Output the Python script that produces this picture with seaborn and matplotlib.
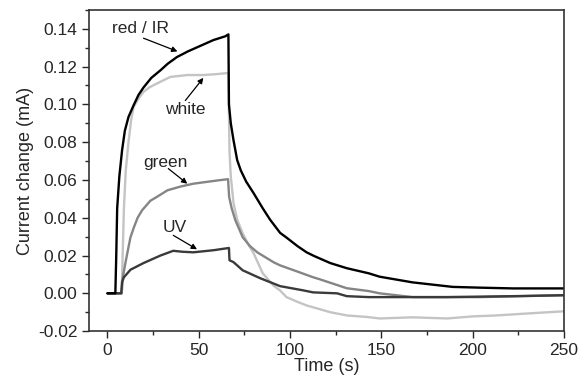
import numpy as np
import pandas as pd
import seaborn as sns
import matplotlib.pyplot as plt
from matplotlib.ticker import MultipleLocator

# photocurrent response under different illumination

red_t = [0, 4.3, 4.8, 5.3, 6.5, 8.0, 9.5, 11.5, 14.3, 17, 19.8, 24, 29, 33, 38, 44, 51, 58, 64.5,
         66.2, 66.5, 67.5, 69, 71, 73, 76, 80, 85, 89, 94.5, 98, 104, 109, 113, 122, 131, 143,
         149, 167, 189, 204, 222, 250]
red_i = [0, 0, 0.02, 0.045, 0.062, 0.0758, 0.086, 0.0933, 0.0995, 0.105, 0.109, 0.114, 0.118,
         0.1215, 0.125, 0.128, 0.131, 0.134, 0.136,
         0.137, 0.100, 0.090, 0.081, 0.0705, 0.065, 0.059, 0.053, 0.045, 0.039, 0.032, 0.0295,
         0.025, 0.0217, 0.0198, 0.016, 0.0133, 0.0106, 0.0088, 0.0058, 0.0034, 0.003, 0.0026,
         0.0026]

white_t = [0, 7.8, 8.3, 9, 10, 11.5, 13, 14.3, 17, 19.7, 23, 27, 34.4, 43.7, 52.5, 60, 66.2,
           66.8, 67.5, 69, 71, 74, 77, 80, 85, 91, 94.5, 98, 104, 109, 113, 122, 131, 142,
           149, 167, 186, 200, 213, 231, 250]
white_i = [0, 0, 0.02, 0.045, 0.065, 0.080, 0.092, 0.0986, 0.103, 0.1066, 0.109, 0.111, 0.1145,
           0.1155, 0.1155, 0.116, 0.1166,
           0.075, 0.062, 0.0477, 0.039, 0.0318, 0.026, 0.0212, 0.0106, 0.004, 0.0015, -0.002,
           -0.0045, -0.0064, -0.0075, -0.010, -0.0117, -0.0125, -0.0133, -0.0127, -0.0133,
           -0.0122, -0.0117, -0.0106, -0.0095]

green_t = [0, 7.8, 8.3, 9.8, 11.5, 12.6, 14.5, 16.5, 19, 23.5, 27, 32.8, 40, 47, 54.6, 60, 66,
           66.6, 68, 70, 74, 78, 82, 91, 94.5, 102, 112.6, 116, 131, 143, 149, 167, 186, 204, 250]
green_i = [0, 0, 0.008, 0.016, 0.0244, 0.0297, 0.035, 0.040, 0.044, 0.049, 0.051, 0.0545,
           0.0565, 0.058, 0.059, 0.0597, 0.0604,
           0.051, 0.045, 0.0387, 0.0297, 0.025, 0.0217, 0.0164, 0.0148, 0.0122, 0.0085, 0.0075,
           0.0027, 0.0012, 0, -0.002, -0.002, -0.002, -0.001]

uv_t = [0, 7.5, 8, 9, 12.6, 19.7, 29, 36, 41, 47, 58, 66.5,
        66.8, 69, 74, 83.6, 94.5, 107, 112.6, 125.7, 131, 143, 186, 222, 250]
uv_i = [0, 0, 0.006, 0.0085, 0.0125, 0.016, 0.020, 0.0225, 0.022, 0.0217, 0.0228, 0.024,
        0.0175, 0.0165, 0.0122, 0.008, 0.0038, 0.0016, 0.0005, 0, -0.0015, -0.002, -0.002,
        -0.0015, -0.001]

labels = ["red / IR", "white", "green", "UV"]

sns.set_style("ticks")
plt.rcParams['font.family'] = ['Liberation Sans', 'DejaVu Sans']

fig = plt.figure(figsize=(5.87, 3.78), dpi=100)
ax = fig.add_axes([0.152, 0.124, 0.809, 0.85])

curves = [(white_t, white_i, "#c4c4c4"),
          (green_t, green_i, "#858585"),
          (uv_t, uv_i, "#3a3a3a"),
          (red_t, red_i, "#000000")]
for t, i, c in curves:
    sns.lineplot(x=t, y=i, ax=ax, color=c, lw=1.7, sort=False, estimator=None)

# annotations: (text pos, arrow tail, arrow head)
notes = [(labels[0], (18, 0.1399), (19.7, 0.135), (38.3, 0.128)),
         (labels[1], (42.6, 0.097), (42.6, 0.102), (52.5, 0.114)),
         (labels[2], (31.7, 0.0694), (33.3, 0.066), (43.7, 0.058)),
         (labels[3], (37, 0.035), (36, 0.0307), (49, 0.0233))]
for txt, pos, tail, head in notes:
    ax.text(pos[0], pos[1], txt, ha="center", va="center", fontsize=12.5)
    ax.annotate("", xy=head, xytext=tail,
                arrowprops=dict(arrowstyle="-|>", color="black", lw=0.9,
                                mutation_scale=8, shrinkA=0, shrinkB=0))

ax.set_xlim(-10, 250)
ax.set_ylim(-0.02, 0.15)
ax.xaxis.set_major_locator(MultipleLocator(50))
ax.xaxis.set_minor_locator(MultipleLocator(25))
ax.yaxis.set_minor_locator(MultipleLocator(0.01))
yt = np.arange(-0.02, 0.141, 0.02)
ax.set_yticks(yt)
ax.set_yticklabels([f"{v:.2f}" for v in yt])
ax.tick_params(which="major", direction="out", length=5, width=1, labelsize=12.5)
ax.tick_params(which="minor", direction="out", length=3, width=1)
for s in ax.spines.values():
    s.set_linewidth(1.2)
    s.set_color("#333333")

ax.set_xlabel("Time (s)", fontsize=13, labelpad=0)
ax.set_ylabel("Current change (mA)", fontsize=13, labelpad=3)

fig.savefig("out.png", dpi=100)
